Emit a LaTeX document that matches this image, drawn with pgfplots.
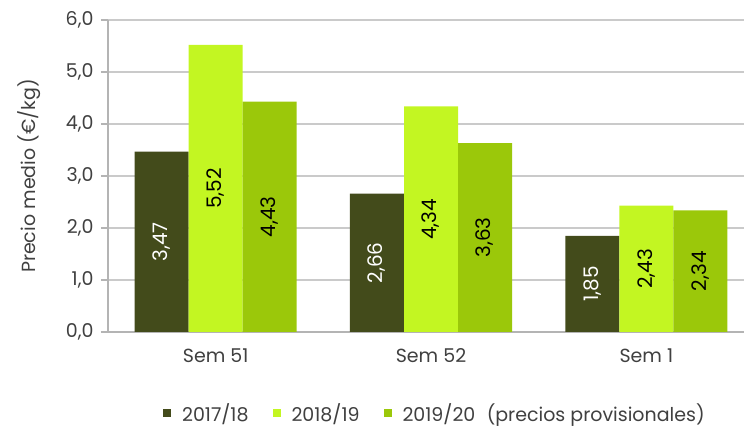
\documentclass[border=0pt]{standalone}
\usepackage{fontspec}
\setmainfont{Poppins}
\usepackage{pgfplots}
\pgfplotsset{compat=1.18}
\definecolor{cA}{HTML}{434B1B}
\definecolor{cB}{HTML}{C3F622}
\definecolor{cC}{HTML}{9BC80A}
\definecolor{gridc}{HTML}{CACACA}
\definecolor{axc}{HTML}{B4B4B4}
\definecolor{txt}{HTML}{404040}
\begin{document}
\begin{tikzpicture}
\path[use as bounding box] (-108pt,-95pt) rectangle (636pt,332pt);
\begin{axis}[
  at={(0,0)}, anchor=south west,
  scale only axis, width=646pt, height=312pt,
  ymin=0, ymax=6, ytick={0,1,2,3,4,5,6},
  xmin=-0.5, xmax=2.5, xtick={0,1,2},
  xticklabels={Sem 51, Sem 52, Sem 1},
  ybar=0pt, bar width=54pt,
  axis x line*=bottom, axis y line*=left,
  axis line style={axc, line width=1.4pt},
  ymajorgrids, grid style={gridc, line width=1.1pt},
  tick align=outside, major tick length=7pt,
  tick style={axc, line width=1.1pt},
  xtick style={draw=none},
  extra x ticks={-0.5,0.5,1.5}, extra x tick labels={},
  extra x tick style={grid=none, tick style={axc, line width=1.1pt, draw=axc}, major tick length=6pt},
  /pgf/number format/assume math mode=true,
  yticklabel style={/pgf/number format/.cd, fixed, fixed zerofill, precision=1, use comma, /tikz/.cd, xshift=-4pt},
  ticklabel style={font=\fontsize{19}{22}\selectfont, text=txt},
  xticklabel style={yshift=-6pt},
  ylabel={Precio medio (€/kg)},
  every axis y label/.style={at={(axis description cs:-0.122,0.5)}, rotate=90, anchor=center, font=\fontsize{19}{22}\selectfont, text=txt},
  visualization depends on={rawy \as \rawy},
  nodes near coords={\pgfmathprintnumber[fixed,fixed zerofill,precision=2,use comma,assume math mode=true]{\pgfplotspointmeta}},
  every node near coord/.append style={shift={(axis direction cs:0,-\rawy/2)}, rotate=90, anchor=center, font=\fontsize{20}{23}\selectfont},
  legend style={draw=none, at={(axis description cs:0.506,0)}, anchor=center, yshift=-81pt, font=\fontsize{19}{22}\selectfont, text=txt, legend columns=3,
    /tikz/every odd column/.append style={column sep=9pt},
    /tikz/every even column/.append style={column sep=22pt}},
  legend image code/.code={\fill[#1, draw=none] (0pt,-4pt) rectangle (8pt,4pt);},
]
\addplot[fill=cA, draw=none, every node near coord/.append style={text=white}] coordinates {(0,3.47) (1,2.66) (2,1.85)};
\addplot[fill=cB, draw=none, every node near coord/.append style={text=black}] coordinates {(0,5.52) (1,4.34) (2,2.43)};
\addplot[fill=cC, draw=none, every node near coord/.append style={text=black}] coordinates {(0,4.43) (1,3.63) (2,2.34)};
\legend{2017/18, 2018/19, 2019/20\hspace{0.6em}(precios provisionales)}
\end{axis}
\end{tikzpicture}
\end{document}
